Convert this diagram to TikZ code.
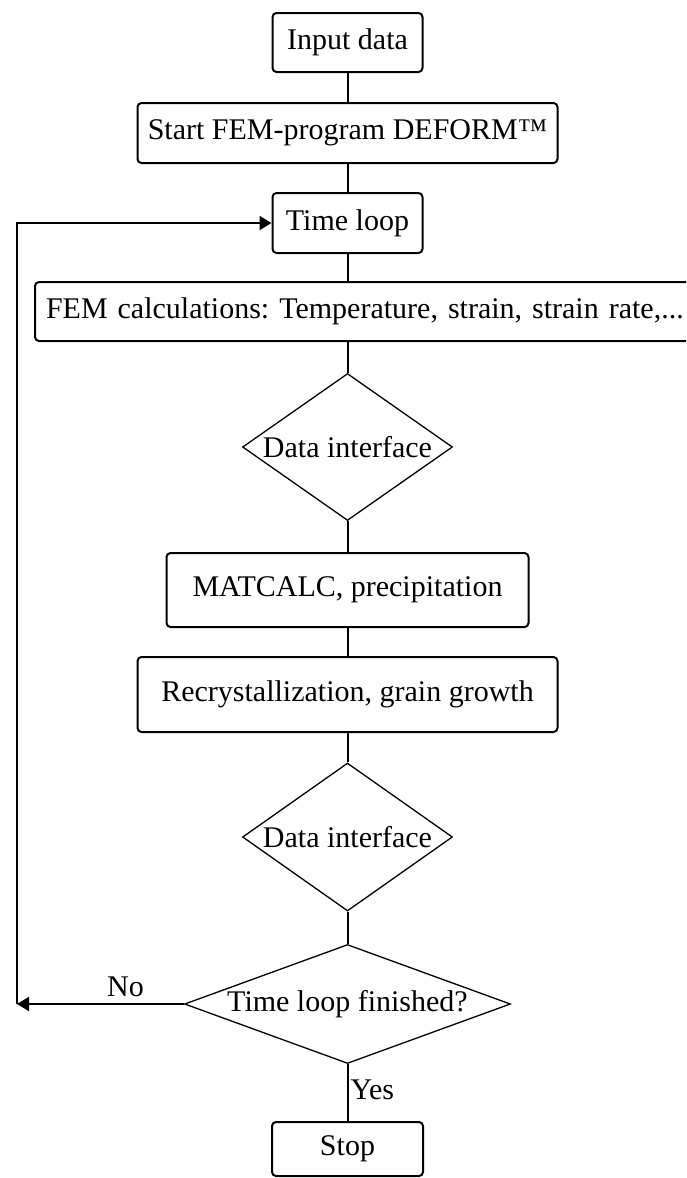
\documentclass[tikz,border=0pt]{standalone}
\usepackage{fontspec}
\setmainfont{Liberation Serif}
\usetikzlibrary{shapes.geometric,arrows.meta}
\tikzset{
  txt/.style={font=\fontsize{30}{33}\selectfont\frenchspacing},
  box/.style={draw=black, line width=2pt, rounded corners=4pt, inner sep=0pt, txt},
  dia/.style={draw=black, diamond, line width=1.3pt, inner sep=0pt, txt},
  conn/.style={draw=black, line width=2pt},
  arr/.style={conn, -{Triangle[length=12pt,width=14pt]}},
  lbl/.style={txt, inner sep=0pt}
}
\begin{document}
\begin{tikzpicture}[x=1pt,y=-1pt]
\useasboundingbox (0,0) rectangle (686,1178);
\fill[white] (0,0) rectangle (686,1178);
\clip (0,0) rectangle (686,1178);

\node[box, minimum width=150, minimum height=59] (inp) at (347.5,42.5) {Input data};
\node[box, minimum width=420, minimum height=60] (start) at (347.5,133) {Start FEM-program DEFORM™};
\node[box, minimum width=150, minimum height=60] (time) at (347.5,223) {Time loop};
\node[box, anchor=west, minimum height=59, inner xsep=11pt, text width=648pt, align=left] (fem) at (34,311.5) {FEM calculations: Temperature, strain, strain rate,...};
\node[dia, minimum width=210, minimum height=147, label={center:{\fontsize{30}{33}\selectfont Data interface}}] (d1) at (347.5,447) {};
\node[box, minimum width=362, minimum height=74] (mat) at (347.5,590) {MATCALC, precipitation};
\node[box, minimum width=420, minimum height=75] (rec) at (347.5,694.5) {Recrystallization, grain growth};
\node[dia, minimum width=210, minimum height=148, label={center:{\fontsize{30}{33}\selectfont Data interface}}] (d2) at (347.5,837) {};
\node[dia, minimum width=326, minimum height=119, label={center:{\fontsize{30}{33}\selectfont Time loop finished?}}] (d3) at (347.5,1004) {};
\node[box, minimum width=151, minimum height=54] (stop) at (347.5,1149) {Stop};

\coordinate (cb) at (17,1004);
\coordinate (ct) at (17,223);

\draw[conn] (inp.south) -- (start.north);
\draw[conn] (start.south) -- (time.north);
\draw[conn] (time.south) -- (time.south |- fem.north);
\draw[conn] (d1.north |- fem.south) -- (d1.north);
\draw[conn] (d1.south) -- (mat.north);
\draw[conn] (mat.south) -- (rec.north);
\draw[conn] (rec.south) -- (d2.north);
\draw[conn] (d2.south) -- (d3.north);
\draw[conn] (d3.south) -- (stop.north) node[lbl, pos=0.45, anchor=west, xshift=2pt] (yes) {Yes};
\draw[arr] (d3.west) -- (cb) node[lbl, pos=0.35, above=6pt] (no) {No};
\draw[arr] (cb) |- (time.west);
\end{tikzpicture}
\end{document}
